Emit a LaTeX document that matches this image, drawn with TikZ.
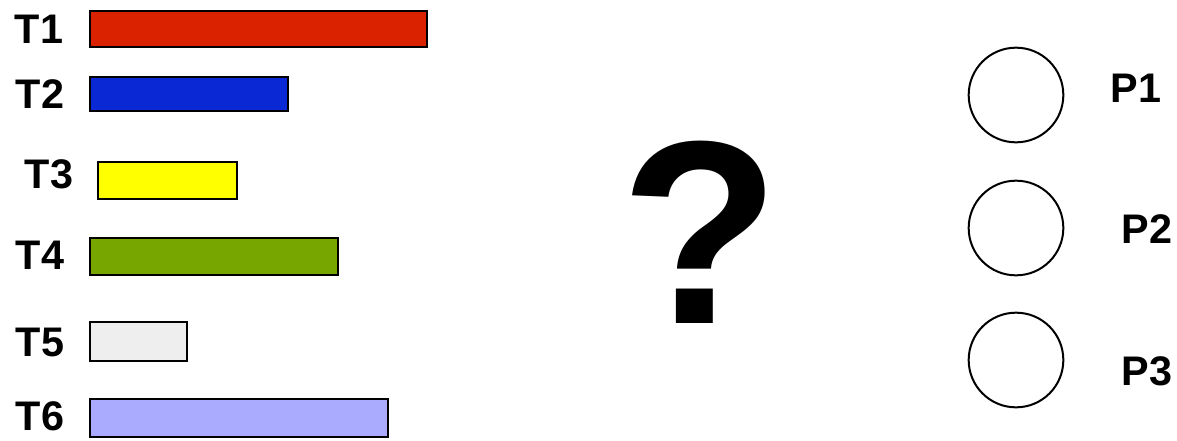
\documentclass[tikz,border=0pt]{standalone}
\usepackage{fontspec}
\setmainfont{Liberation Sans}
\usetikzlibrary{calc}
\definecolor{TaskRed}{HTML}{DA2200}
\definecolor{TaskBlue}{HTML}{0A28D4}
\definecolor{TaskYellow}{HTML}{FFFF00}
\definecolor{TaskGreen}{HTML}{77A600}
\definecolor{TaskGray}{HTML}{EEEEEE}
\definecolor{TaskLilac}{HTML}{AAAAFF}

\begin{document}
\begin{tikzpicture}[x=0.75pt,y=-0.75pt]
\tikzset{bar/.style={draw=black,line width=1.6pt},
  tlabel/.style={font=\fontsize{31}{31}\bfseries\selectfont,inner sep=0pt},
  proc/.style={circle,draw=black,line width=1.5pt,minimum size=71pt,inner sep=0pt}}
\useasboundingbox (0,0) rectangle (1177,440);

\draw[bar,fill=TaskRed] (90,11) rectangle (427,47);
\draw[bar,fill=TaskBlue] (90,77) rectangle (288,111);
\draw[bar,fill=TaskYellow] (98,162) rectangle (237,199);
\draw[bar,fill=TaskGreen] (90,238) rectangle (338,275);
\draw[bar,fill=TaskGray] (90,322) rectangle (187,361);
\draw[bar,fill=TaskLilac] (90,399) rectangle (388,437);

\node[tlabel] (T1) at (39,29) {T1};
\node[tlabel] (T2) at (40,94) {T2};
\node[tlabel] (T3) at (49,174) {T3};
\node[tlabel] (T4) at (40,255) {T4};
\node[tlabel] (T5) at (40,342) {T5};
\node[tlabel] (T6) at (40,416) {T6};

\node[font=\fontsize{196}{196}\bfseries\selectfont,inner sep=0pt] (Q) at (700,232) {?};

\node[proc] (C1) at (1016,95) {};
\node[proc] (C2) at (1016,228) {};
\node[proc] (C3) at (1016,360) {};

\node[tlabel] (P1) at (1136,88) {P1};
\node[tlabel] (P2) at (1147,229) {P2};
\node[tlabel] (P3) at (1147,371) {P3};

\end{tikzpicture}
\end{document}
